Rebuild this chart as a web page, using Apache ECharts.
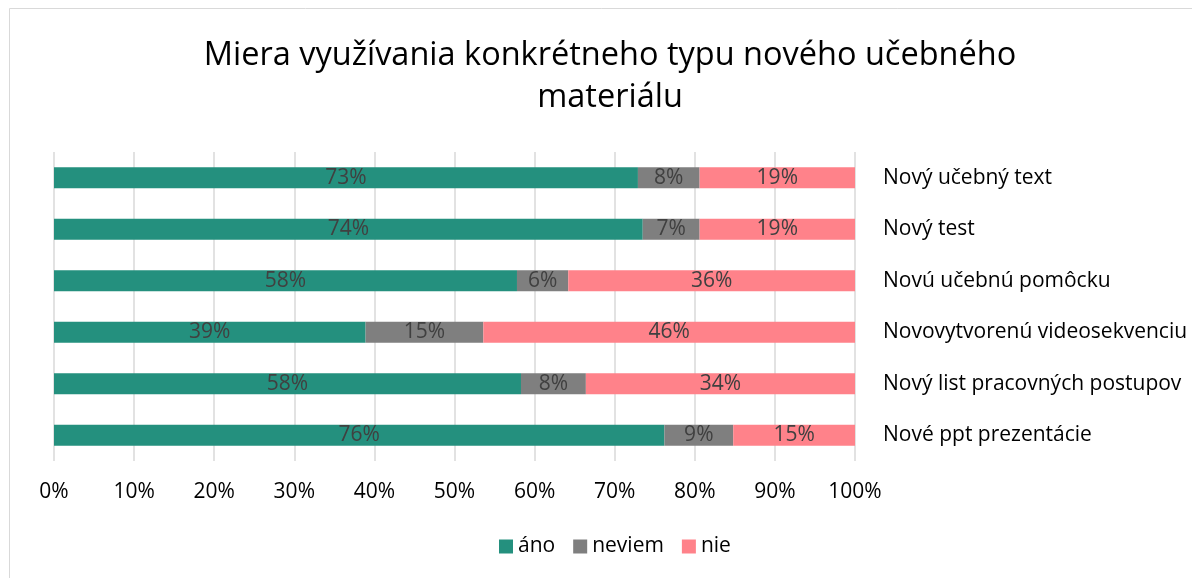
<!DOCTYPE html>
<html>
<head>
<meta charset="utf-8">
<script src="https://cdn.jsdelivr.net/npm/echarts@6/dist/echarts.min.js"></script>
<style>
  html, body { margin: 0; padding: 0; background: #fff; }
  #chart { width: 1192px; height: 578px; }
</style>
</head>
<body>
<div id="chart"></div>
<script>
// kategórie (zhora nadol)
var categories = ['Nový učebný text', 'Nový test', 'Novú učebnú pomôcku',
  'Novovytvorenú videosekvenciu', 'Nový list pracovných postupov', 'Nové ppt prezentácie'];

// hodnoty v percentách
var anoData    = [72.9, 73.5, 57.8, 38.9, 58.3, 76.2];
var neviemData = [7.7, 7.1, 6.4, 14.7, 8.1, 8.6];
var nieData    = [19.4, 19.4, 35.8, 46.4, 33.6, 15.2];

var seriesNames = ['áno', 'neviem', 'nie'];
var xTicks = [0, 10, 20, 30, 40, 50, 60, 70, 80, 90, 100];

var fontName = 'Open Sans';
var chart = echarts.init(document.getElementById('chart'));

function makeSeries(name, data, color) {
  return {
    name: name,
    type: 'bar',
    stack: 'spolu',
    data: data,
    barWidth: 21,
    itemStyle: { color: color },
    label: {
      show: true,
      position: 'inside',
      color: '#404040',
      fontFamily: fontName,
      fontSize: 21,
      formatter: function (p) { return Math.round(p.value) + '%'; }
    }
  };
}

var option = {
  animation: false,
  backgroundColor: '#fff',
  textStyle: { fontFamily: fontName },
  title: {
    text: 'Miera využívania konkrétneho typu nového učebného\nmateriálu',
    left: 605,
    top: 30,
    textAlign: 'center',
    textStyle: { fontFamily: fontName, fontSize: 32.5, fontWeight: 'normal', color: '#000', lineHeight: 42 }
  },
  graphic: [{
    type: 'rect',
    shape: { x: 9.5, y: 8.5, width: 1200, height: 600 },
    style: { fill: 'none', stroke: '#d9d9d9', lineWidth: 1 },
    silent: true
  }],
  legend: {
    data: seriesNames,
    bottom: 16,
    left: 494,
    icon: 'rect',
    itemWidth: 14,
    itemHeight: 14,
    itemGap: 18,
    textStyle: { fontFamily: fontName, fontSize: 21, color: '#000' }
  },
  grid: { left: 54, right: 337, top: 152, bottom: 117 },
  xAxis: {
    type: 'value',
    min: xTicks[0],
    max: xTicks[xTicks.length - 1],
    interval: 10,
    axisLine: { show: false },
    axisTick: { show: false },
    splitLine: { lineStyle: { color: '#d9d9d9', width: 1.5 } },
    axisLabel: {
      margin: 21,
      color: '#000',
      fontFamily: fontName,
      fontSize: 21,
      formatter: '{value}%'
    }
  },
  yAxis: {
    type: 'category',
    data: categories,
    inverse: true,
    position: 'right',
    axisLine: { show: false },
    axisTick: { show: false },
    axisLabel: {
      margin: 28,
      align: 'left',
      color: '#000',
      fontFamily: fontName,
      fontSize: 21
    }
  },
  series: [
    makeSeries(seriesNames[0], anoData, '#24907E'),
    makeSeries(seriesNames[1], neviemData, '#7F7F7F'),
    makeSeries(seriesNames[2], nieData, '#FF828A')
  ]
};

chart.setOption(option);
</script>
</body>
</html>
